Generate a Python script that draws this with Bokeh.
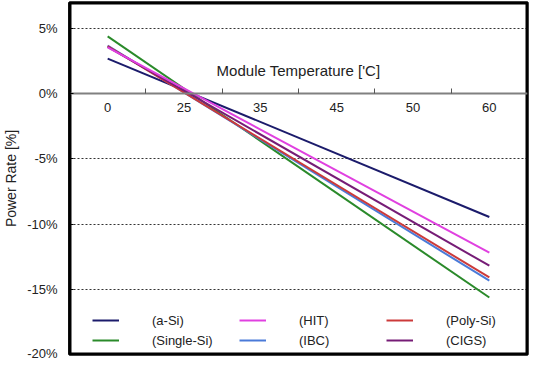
from bokeh.plotting import figure
from bokeh.models import FixedTicker, Legend, LegendItem, Label, ColumnDataSource
from bokeh.embed import file_html
from bokeh.resources import INLINE

# ---- data ----
temps = ["0", "25", "35", "45", "50", "60"]
series = ["(a-Si)", "(Single-Si)", "(IBC)", "(Poly-Si)", "(CIGS)", "(HIT)"]
rate_at_0 = [2.7, 4.4, 3.7, 3.65, 3.6, 3.55]
rate_at_60 = [-9.45, -15.63, -14.34, -14.09, -13.19, -12.18]
colors = ["#1b1b6b", "#2a8a2a", "#4a7ad8", "#cc3a3a", "#761c76", "#e040e0"]
y_ticks = [-20, -15, -10, -5, 0, 5]
legend_order = ["(a-Si)", "(HIT)", "(Poly-Si)", "(Single-Si)", "(IBC)", "(CIGS)"]

FONT = "Liberation Sans"
TXT = "#222222"

X0, X1 = -0.5, len(temps) - 0.5
Y0, Y1 = -20, 7

p = figure(width=529, height=360, output_backend="svg", toolbar_location=None,
           x_range=(X0, X1), y_range=(Y0, Y1),
           min_border_left=68, min_border_right=2, min_border_top=2, min_border_bottom=6)
p.background_fill_color = "white"
p.border_fill_color = "white"
p.outline_line_color = "black"
p.outline_line_width = 2.5

# frame border drawn as an unfilled quad along the range limits
p.quad(left=[X0], right=[X1], bottom=[Y0], top=[Y1],
       fill_alpha=0, line_color="black", line_width=4)

x_idx = [temps.index("0"), temps.index("60")]
renderers = {}
for name, y0, y1, c in zip(series, rate_at_0, rate_at_60, colors):
    src = ColumnDataSource(dict(x=x_idx, y=[y0, y1]))
    renderers[name] = p.line("x", "y", source=src, line_color=c, line_width=2)

# grid
p.xgrid.visible = False
p.ygrid.ticker = FixedTicker(ticks=y_ticks)
p.ygrid.grid_line_color = "#333333"
p.ygrid.grid_line_dash = "2 2"
p.ygrid.grid_line_width = 1

# y axis
ya = p.yaxis[0]
ya.ticker = FixedTicker(ticks=y_ticks)
ya.major_label_overrides = {v: f"{v}%" for v in y_ticks}
ya.axis_line_color = "black"
ya.axis_line_width = 2.5
ya.major_tick_in = 4
ya.major_tick_out = 0
ya.major_tick_line_color = "black"
ya.minor_tick_line_color = None
ya.major_label_standoff = 12
ya.major_label_text_font = FONT
ya.major_label_text_font_size = "13px"
ya.major_label_text_color = TXT
ya.axis_label = "Power Rate [%]"
ya.axis_label_text_font = FONT
ya.axis_label_text_font_size = "14px"
ya.axis_label_text_font_style = "normal"
ya.axis_label_text_color = TXT
ya.axis_label_standoff = 5

# x axis at y = 0
xa = p.below[0]
xa.fixed_location = 0
xa.ticker = FixedTicker(ticks=list(range(len(temps))),
                        minor_ticks=[i + 0.5 for i in range(len(temps) - 1)])
xa.major_label_overrides = {i: t for i, t in enumerate(temps)}
xa.axis_line_color = "#808080"
xa.axis_line_width = 2
xa.major_tick_in = 0
xa.major_tick_out = 0
xa.minor_tick_in = 5
xa.minor_tick_out = 0
xa.minor_tick_line_color = "#555555"
xa.minor_tick_line_width = 1
xa.major_label_standoff = 9
xa.major_label_text_font = FONT
xa.major_label_text_font_size = "13px"
xa.major_label_text_color = TXT

p.add_layout(Label(x=(len(temps) - 1) / 2, y=1.8, text="Module Temperature ['C]",
                   text_align="center", text_baseline="middle",
                   text_font=FONT, text_font_size="15px", text_color=TXT))

legend = Legend(items=[LegendItem(label=n, renderers=[renderers[n]]) for n in legend_order],
                location=(23, 6), orientation="horizontal", ncols=3,
                glyph_width=27, glyph_height=16, label_height=16, label_width=83,
                label_standoff=33, spacing=4, padding=0, margin=0,
                border_line_alpha=0, background_fill_alpha=0,
                label_text_font=FONT, label_text_font_size="13px", label_text_color=TXT)
p.add_layout(legend)

open("out.html", "w").write(file_html(p, INLINE))
